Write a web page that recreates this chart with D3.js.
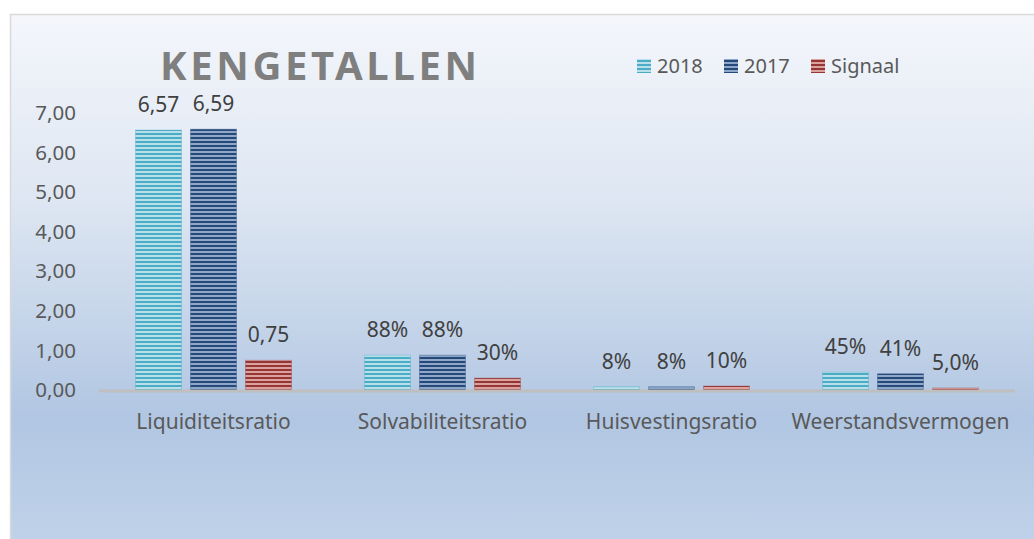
<!DOCTYPE html>
<html>
<head>
<meta charset="utf-8">
<script src="https://cdn.jsdelivr.net/npm/d3@7"></script>
<style>
  html, body { margin: 0; padding: 0; background: #ffffff; }
  svg { display: block; font-family: "Noto Sans", "Liberation Sans", sans-serif; }
</style>
</head>
<body>
<div id="chart"></div>
<script>
const categories = ['Liquiditeitsratio', 'Solvabiliteitsratio', 'Huisvestingsratio', 'Weerstandsvermogen'];
const seriesNames = ['2018', '2017', 'Signaal'];
const values2018 = [6.57, 0.88, 0.08, 0.45];
const values2017 = [6.59, 0.88, 0.08, 0.41];
const valuesSignaal = [0.75, 0.30, 0.10, 0.05];
const labels2018 = ['6,57', '88%', '8%', '45%'];
const labels2017 = ['6,59', '88%', '8%', '41%'];
const labelsSignaal = ['0,75', '30%', '10%', '5,0%'];
const yTicks = [0, 1, 2, 3, 4, 5, 6, 7];

const width = 1034;
const height = 539;
const margin = {top: 113, right: 19, bottom: 149, left: 99};

const seriesColors = [
  {dark: '#4bacc6', light: '#b9e0ea'},
  {dark: '#25497a', light: '#8fa8c8'},
  {dark: '#943634', light: '#dca09e'}
];

const series = [
  {name: seriesNames[0], values: values2018, labels: labels2018},
  {name: seriesNames[1], values: values2017, labels: labels2017},
  {name: seriesNames[2], values: valuesSignaal, labels: labelsSignaal}
];

const svg = d3.select('#chart')
  .append('svg')
  .attr('width', width)
  .attr('height', height);

const defs = svg.append('defs');

const bg = defs.append('linearGradient')
  .attr('id', 'bg-grad')
  .attr('x1', 0).attr('y1', 0).attr('x2', 0).attr('y2', 1);
bg.append('stop').attr('offset', '0%').attr('stop-color', '#f4f6fb');
bg.append('stop').attr('offset', '35%').attr('stop-color', '#dde6f2');
bg.append('stop').attr('offset', '75%').attr('stop-color', '#b1c6e2');
bg.append('stop').attr('offset', '100%').attr('stop-color', '#c1d3ea');

// striped fills for each series
seriesColors.forEach((c, i) => {
  const p = defs.append('pattern')
    .attr('id', 'stripe-' + i)
    .attr('patternUnits', 'userSpaceOnUse')
    .attr('width', 8)
    .attr('height', 4);
  p.append('rect').attr('width', 8).attr('height', 4).attr('fill', c.light);
  p.append('rect').attr('y', 1).attr('width', 8).attr('height', 2).attr('fill', c.dark);
});

// chart area frame
svg.append('rect')
  .attr('x', 10.5)
  .attr('y', 14.5)
  .attr('width', width)
  .attr('height', height)
  .attr('fill', 'url(#bg-grad)')
  .attr('stroke', '#d9d9d9')
  .attr('stroke-width', 1.5);

const x0 = d3.scaleBand()
  .domain(categories)
  .range([margin.left, width - margin.right]);

const x1 = d3.scaleBand()
  .domain(seriesNames)
  .range([0, x0.bandwidth()])
  .paddingInner(0.164)
  .paddingOuter(0.664);

const y = d3.scaleLinear()
  .domain([0, 7])
  .range([height - margin.bottom, margin.top]);

// y tick labels
svg.append('g')
  .selectAll('text')
  .data(yTicks)
  .join('text')
  .attr('x', 76)
  .attr('y', d => y(d))
  .attr('dy', '0.35em')
  .attr('text-anchor', 'end')
  .attr('font-size', 20.5)
  .attr('fill', '#595959')
  .text(d => d3.format('.2f')(d).replace('.', ','));

// bars
const groups = svg.append('g')
  .selectAll('g')
  .data(series)
  .join('g')
  .attr('fill', (d, i) => 'url(#stripe-' + i + ')');

groups.each(function (s, si) {
  const g = d3.select(this);
  const rows = categories.map((c, ci) => ({cat: c, value: s.values[ci], label: s.labels[ci]}));

  g.selectAll('rect')
    .data(rows)
    .join('rect')
    .attr('x', d => x0(d.cat) + x1(s.name))
    .attr('y', d => y(d.value))
    .attr('width', x1.bandwidth())
    .attr('height', d => y(0) - y(d.value))
    .attr('stroke', seriesColors[si].dark)
    .attr('stroke-opacity', 0.35)
    .attr('stroke-width', 1);

  g.selectAll('text')
    .data(rows)
    .join('text')
    .attr('x', d => x0(d.cat) + x1(s.name) + x1.bandwidth() / 2)
    .attr('y', d => y(d.value) - 18)
    .attr('text-anchor', 'middle')
    .attr('font-size', 21)
    .attr('fill', '#404040')
    .text(d => d.label);
});

// category axis line
svg.append('line')
  .attr('x1', margin.left)
  .attr('x2', width - margin.right)
  .attr('y1', y(0) + 1)
  .attr('y2', y(0) + 1)
  .attr('stroke', '#bfbfbf')
  .attr('stroke-width', 3);

svg.append('g')
  .selectAll('text')
  .data(categories)
  .join('text')
  .attr('x', d => x0(d) + x0.bandwidth() / 2)
  .attr('y', 422)
  .attr('dy', '0.35em')
  .attr('text-anchor', 'middle')
  .attr('font-size', 21)
  .attr('fill', '#595959')
  .text(d => d);

// title
svg.append('text')
  .attr('x', 160)
  .attr('y', 80)
  .attr('font-size', 40)
  .attr('font-weight', 'bold')
  .attr('fill', '#7f7f7f')
  .attr('textLength', 317)
  .attr('lengthAdjust', 'spacing')
  .text('KENGETALLEN');

// legend
const legendX = [637, 724, 811];
const legend = svg.append('g')
  .selectAll('g')
  .data(seriesNames)
  .join('g')
  .attr('transform', (d, i) => 'translate(' + legendX[i] + ',59)');

legend.append('rect')
  .attr('width', 14)
  .attr('height', 14)
  .attr('fill', (d, i) => 'url(#stripe-' + i + ')');

legend.append('text')
  .attr('x', 20)
  .attr('y', 7)
  .attr('dy', '0.35em')
  .attr('font-size', 20)
  .attr('fill', '#595959')
  .text(d => d);
</script>
</body>
</html>
